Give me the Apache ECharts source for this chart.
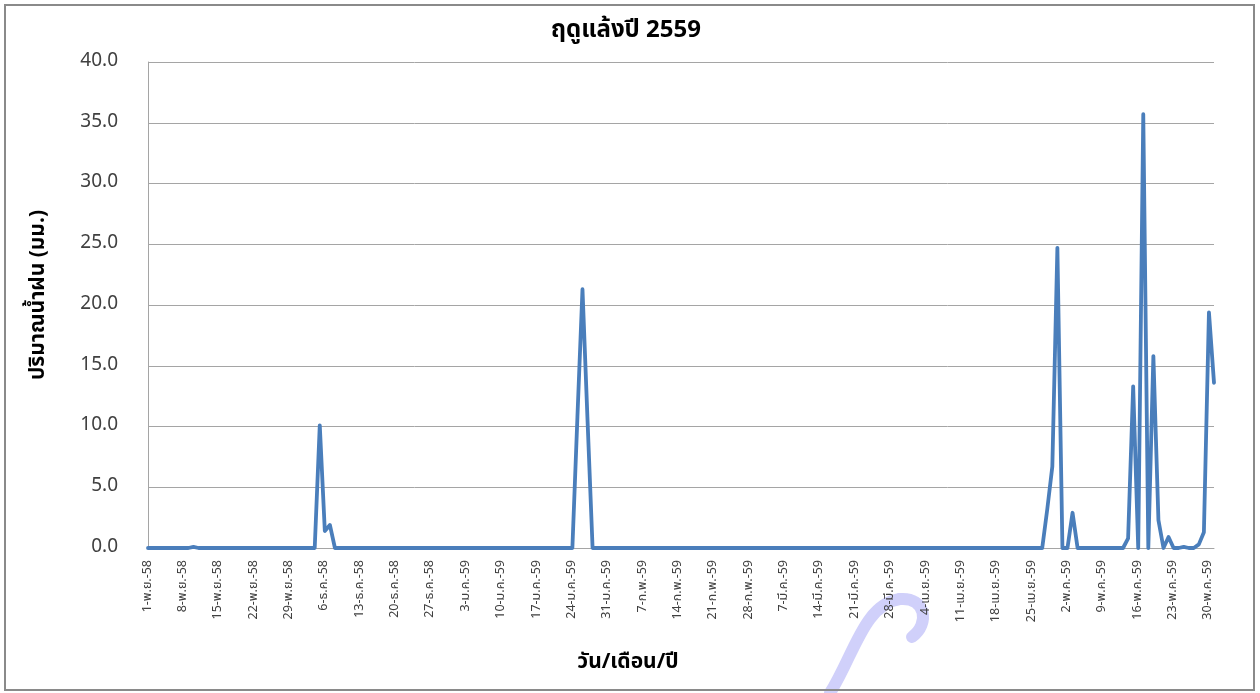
<!DOCTYPE html>
<html>
<head>
<meta charset="utf-8">
<script src="https://cdn.jsdelivr.net/npm/echarts@6/dist/echarts.min.js"></script>
<style>
  html, body { margin: 0; padding: 0; background: #fff; }
  #chart { width: 1260px; height: 693px; }
</style>
</head>
<body>
<div id="chart"></div>
<script>
// Months of the 2559 dry season (Nov 2558 - May 2559), as shown on the axis
var monthNames = ['พ.ย.', 'ธ.ค.', 'ม.ค.', 'ก.พ.', 'มี.ค.', 'เม.ย.', 'พ.ค.'];
var monthYears = ['58', '58', '59', '59', '59', '59', '59'];
var monthDays  = [30, 31, 31, 28, 31, 30, 31];

// Daily rainfall (mm), one array per month
var rainNov = [0,0,0,0,0,0,0,0,0,0.1, 0,0,0,0,0,0,0,0,0,0, 0,0,0,0,0,0,0,0,0,0];
var rainDec = [0,0,0,0,10.1,1.4,1.9,0,0,0, 0,0,0,0,0,0,0,0,0,0, 0,0,0,0,0,0,0,0,0,0, 0];
var rainJan = [0,0,0,0,0,0,0,0,0,0, 0,0,0,0,0,0,0,0,0,0, 0,0,0,0,10.8,21.3,10.5,0,0,0, 0];
var rainFeb = [0,0,0,0,0,0,0,0,0,0, 0,0,0,0,0,0,0,0,0,0, 0,0,0,0,0,0,0,0];
var rainMar = [0,0,0,0,0,0,0,0,0,0, 0,0,0,0,0,0,0,0,0,0, 0,0,0,0,0,0,0,0,0,0, 0];
var rainApr = [0,0,0,0,0,0,0,0,0,0, 0,0,0,0,0,0,0,0,0,0, 0,0,0,0,0,0,0,3.2,6.7,24.7];
var rainMay = [0,0,2.9,0,0,0,0,0,0,0, 0,0,0,0.8,13.3,0,35.7,0,15.8,2.3, 0,0.9,0,0,0.1,0,0,0.3,1.3,19.4, 13.6];

var yTicks = [0, 5, 10, 15, 20, 25, 30, 35, 40];

var titleText = 'ฤดูแล้งปี 2559';
var yName = 'ปริมาณน้ำฝน (มม.)';
var xName = 'วัน/เดือน/ปี';

// Build category labels and series
var categories = [];
for (var m = 0; m < monthNames.length; m++) {
  for (var d = 1; d <= monthDays[m]; d++) {
    categories.push(d + '-' + monthNames[m] + '-' + monthYears[m]);
  }
}
var rain = [].concat(rainNov, rainDec, rainJan, rainFeb, rainMar, rainApr, rainMay);

var FONT = "Tahoma, 'Noto Sans Thai', 'Noto Sans', 'DejaVu Sans', sans-serif";
var WM = { fill: 'none', stroke: '#d0d0fa', lineWidth: 12, lineCap: 'round' };

var chart = echarts.init(document.getElementById('chart'), null, { renderer: 'canvas' });
chart.setOption({
  animation: false,
  backgroundColor: '#ffffff',
  textStyle: { fontFamily: FONT },
  title: {
    text: titleText,
    left: 546,
    top: 15,
    textStyle: { fontFamily: FONT, fontSize: 24, fontWeight: 'bold', color: '#000' }
  },
  graphic: [{
    type: 'bezierCurve',
    shape: { x1: 830, y1: 693, cpx1: 854, cpy1: 655, cpx2: 864, cpy2: 604, x2: 900, y2: 599 },
    style: WM,
    silent: true,
    z: -1
  }, {
    type: 'bezierCurve',
    shape: { x1: 900, y1: 599, cpx1: 926, cpy1: 597, cpx2: 930, cpy2: 624, x2: 912, y2: 637 },
    style: WM,
    silent: true,
    z: -1
  }, {
    type: 'rect',
    shape: { x: 5, y: 5, width: 1249, height: 685 },
    style: { fill: 'none', stroke: '#8a8a8a', lineWidth: 2 },
    silent: true,
    z: 100
  }],
  grid: { left: 148, right: 46, top: 62, bottom: 145 },
  xAxis: {
    type: 'category',
    data: categories,
    boundaryGap: false,
    name: xName,
    nameLocation: 'middle',
    nameGap: 105,
    nameTextStyle: { fontFamily: FONT, fontSize: 21, fontWeight: 'bold', color: '#000', padding: [0, 106, 0, 0] },
    axisLine: { show: true, lineStyle: { color: '#a5a5a5', width: 1 } },
    axisTick: { show: false },
    axisLabel: {
      interval: 6,
      rotate: 90,
      margin: 12,
      fontSize: 12.5,
      color: '#404040',
      fontFamily: FONT
    },
    splitLine: { show: false }
  },
  yAxis: {
    type: 'value',
    min: yTicks[0],
    max: yTicks[yTicks.length - 1],
    interval: yTicks[1] - yTicks[0],
    name: yName,
    nameLocation: 'middle',
    nameGap: 98,
    nameRotate: 90,
    nameTextStyle: { fontFamily: FONT, fontSize: 21, fontWeight: 'bold', color: '#000', padding: [0, 0, 0, 20] },
    axisLine: { show: true, lineStyle: { color: '#a5a5a5', width: 1 } },
    axisTick: { show: false },
    axisLabel: {
      margin: 30,
      fontSize: 19,
      color: '#404040',
      fontFamily: FONT,
      formatter: function (v) { return v.toFixed(1); }
    },
    splitLine: { show: true, lineStyle: { color: '#a5a5a5', width: 1 } }
  },
  series: [{
    type: 'line',
    data: rain,
    showSymbol: false,
    symbol: 'none',
    lineStyle: { color: '#4a7ebb', width: 3.8, join: 'round', cap: 'round' },
    itemStyle: { color: '#4a7ebb' }
  }]
});
</script>
</body>
</html>
